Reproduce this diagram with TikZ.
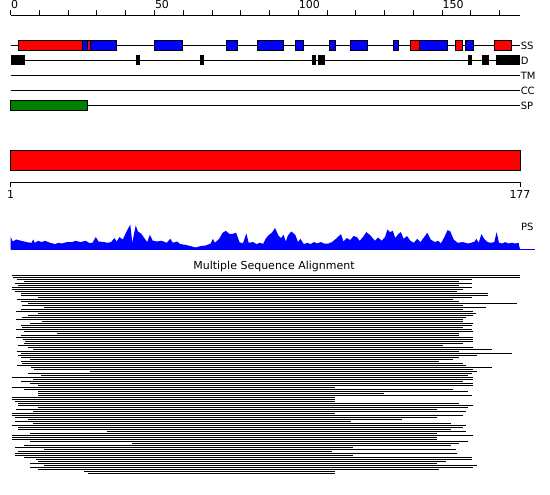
\documentclass[tikz,border=0pt]{standalone}
\usepackage{fontspec}
\setmainfont{DejaVu Sans}
\usepackage{tikz}

\definecolor{spgreen}{RGB}{0,128,0}
\tikzset{
  lbl/.style={anchor=west,inner sep=0.5pt,font=\fontsize{10}{10}\selectfont},
  num/.style={inner sep=0pt,font=\fontsize{11}{11}\selectfont},
  ssbox/.style={draw=black,line width=1pt},
  aln/.style={line width=1pt}
}

\begin{document}
\begin{tikzpicture}[x=1pt,y=-1pt]
  \useasboundingbox (0,0) rectangle (550,495);
  % feature tracks, in residues (177 of them)
  \begin{scope}[shift={(10.7,0)},xscale=2.876,line width=1pt]
    % ruler
    \draw (0,15.5) -- (177,15.5);
    \foreach \x in {0,10,...,170} \draw (\x,15.5) -- (\x,10.5);
    \foreach \x in {0,50,100,150}
      \node[num,anchor=south west] (top\x) at (\x,9.5) {\x};
    % SS
    \draw (0,45.5) -- (177,45.5) node[lbl] (ss) {SS};
    \foreach \a/\b in {24.9/26.6,27.6/36.7,49.9/59.7,75/78.9,85.8/94.8,
      99.1/101.9,110.8/113,118.1/124.1,133/135,142/151.9,158.1/161}
      \draw[ssbox,fill=blue] (\a,40.5) rectangle (\b,50.5);
    \foreach \a/\b in {2.6/24.9,26.6/27.6,138.9/142,154.8/157.2,168.2/174.2}
      \draw[ssbox,fill=red] (\a,40.5) rectangle (\b,50.5);
    % D
    \draw (0,60.5) -- (177,60.5) node[lbl] (d) {D};
    \foreach \a/\b in {0/5,43.6/44.9,65.8/67.1,104.8/106.1,106.8/109.2,
      159.1/160.3,163.8/166.2,168.8/177}
      \fill (\a,55.5) rectangle (\b,65.5);
    % TM, CC
    \draw (0,75.5) -- (177,75.5) node[lbl] (tm) {TM};
    \draw (0,90.5) -- (177,90.5) node[lbl] (cc) {CC};
    % SP
    \draw (0,105.5) -- (177,105.5) node[lbl] (sp) {SP};
    \draw[ssbox,fill=spgreen] (0,100.5) rectangle (26.6,110.5);
  \end{scope}

  % domain bar and its ruler
  \draw[line width=1pt,fill=red] (10.5,150.5) rectangle (520,170.5);
  \draw[line width=1pt] (10.5,187.5) -- (10.5,182.5) -- (520,182.5) -- (520,187.5);
  \node[num,anchor=north] (first) at (10.5,190) {1};
  \node[num,anchor=north] (last) at (520,190) {177};

  % PS profile
  \fill[blue] (10.5,249.5) -- plot coordinates {(10.5,237.1) (12.9,241.5) (16.2,239.5)
    (21.3,240.8) (26.4,242.1) (31.5,242.8) (33.2,239.5) (34.9,242.8) (38.2,240.8)
    (41.6,242.1) (45,240.8) (50.1,242.8) (55.2,244.1) (58.5,242.8) (61.9,243.5)
    (67,242.1) (72.1,242.1) (75.5,240.8) (80.5,242.1) (85.6,240.8) (89,242.8)
    (92.4,242.8) (95.8,237.1) (98.5,241.5) (104.2,242.1) (107.6,242.8) (111,242.1)
    (114.4,238.1) (116.7,241.5) (119.4,237.1) (122.8,239.5) (126.2,232.1) (127.9,228.8)
    (130.3,224.8) (132.3,242.8) (135.7,225.5) (138,231.5) (141.4,233.8) (144.8,238.8)
    (147.2,242.1) (149.9,234.8) (152.6,240.5) (156.6,241.5) (161.7,240.8) (166.8,242.8)
    (170.2,238.8) (172.9,242.8) (177,241.5) (180.3,244.1) (185.4,244.8) (190.5,246.1)
    (195.6,247.5) (200.6,246.1) (205.7,245.5) (210.8,243.5) (212.8,238.8) (214.8,242.8)
    (219.2,238.8) (222.6,232.8) (226,230.8) (229.4,234.1) (232.8,233.8) (236.1,232.8)
    (239.5,242.1) (242.9,243.5) (246.3,233.5) (248.7,242.8) (253.1,242.1) (256.5,244.1)
    (259.8,242.8) (263.2,243.8) (265.6,238.8) (268.3,235.5) (271.7,232.8) (275.1,228.1)
    (278.4,235.5) (281.1,238.1) (283.5,234.8) (285.9,241.5) (287.9,235.5) (291.3,231.5)
    (295.3,234.8) (298,242.1) (300.4,238.8) (303.8,244.1) (307.2,242.8) (310.6,244.1)
    (314,242.1) (317.3,243.5) (320.7,242.1) (324.1,243.5) (328.5,243.5) (331.9,242.1)
    (336,238.8) (341,234.1) (343.4,241.5) (346.8,238.1) (350.2,240.1) (353.5,236.1)
    (356.9,237.1) (359.6,240.8) (363,237.1) (366.4,232.1) (370.5,235.5) (374.9,240.8)
    (378.2,237.5) (381.6,240.8) (385,237.1) (387.4,229.5) (390.1,232.1) (392.8,230.8)
    (395.2,238.1) (398.5,233.8) (400.9,232.1) (403.6,238.8) (407,236.1) (410.4,240.8)
    (413.8,242.8) (417.2,238.8) (420.5,242.1) (423.9,237.5) (427.3,232.8) (430.7,239.5)
    (434.7,242.1) (438.1,240.8) (440.8,243.5) (444.2,237.5) (447.6,230.1) (450.3,231.5)
    (453.7,239.5) (457.7,242.8) (462.8,242.1) (467.9,243.5) (471.3,242.8) (474.7,241.5)
    (476.4,238.8) (478.7,242.8) (481.4,234.1) (484.1,238.8) (487.5,242.1) (490.9,242.8)
    (494.3,242.1) (496.6,232.1) (499,242.8) (502.4,243.5) (505.1,242.1) (508.5,243.5)
    (511.8,242.8) (515.2,243.5) (518.6,242.8)}
    -- (520,249.5) -- cycle;
  \draw[blue] (10.5,249.5) -- (535,249.5);
  \node[lbl] (ps) at (520.5,227) {PS};

  % alignment
  \node[font=\fontsize{11}{11}\selectfont,inner sep=0pt] (msa) at (274,266) {Multiple Sequence Alignment};
  \foreach \s/\e [count=\i] in {11.7/520,13.3/520,16.7/471.7,24.3/459,15/471.7,
    18.3/459,11.7/471.7,12.3/462.7,15/456.7,21/488,21/488,38.3/471.7,16.7/453,
    21/459,27.7/517,21.7/462.7,44.3/485.7,21/462.7,15.7/473,38.3/476,27.7/472.7,
    21.7/465.7,15.7/462.7,41.7/462.7,30/473,21/471.7,21.7/462.7,15.7/471.7,
    24.3/473,56.7/459,21/459,15.7/473,23.3/473,25/473,24.3/462.7,17.7/442.7,
    27.7/473,33.3/491.7,16.7/459,21/511.7,18.3/476.7,21/459,30/453,21/439,
    21.7/462.7,16.7/465.7,31/491.7,34.3/473,90/476.7,
    27.7/471.7,41/468.3,12.3/473,33.3/473,21/462.7,30/473,38.3/473,12.3/335.3,
    24.3/453.3,38.3/468.3,38.3/384.3,38.3/471.7,12.3/335.3,12.3/335.3,15/335.3,
    18.3/459.3,17.7/473.3,38.3/468,15.7/436.7,33.3/465.7,12.3/335.3,12.3/462.7,
    15/436.7,27.7/401.7,15/350.7,33.3/450.7,12.3/465.7,18.3/462.7,18.3/450.7,
    106.7/465.7,30/436.7,12.3/473.3,12.3/436.7,12.3/436.7,30/468.3,131.7/459.3,
    24.3/450.7,15/352.7,44.3/456,18.3/332.3,15/456.7,15/352.7,24.3/471.7,
    35.7/471.7,38.3/445.7,30/436.7,44.3/476.7,30/473.3,38.3/439.3,84.3/335.3,
    87.7/335.3}
    \draw[aln] (\s,273.5+2*\i) -- (\e,273.5+2*\i);
\end{tikzpicture}
\end{document}
